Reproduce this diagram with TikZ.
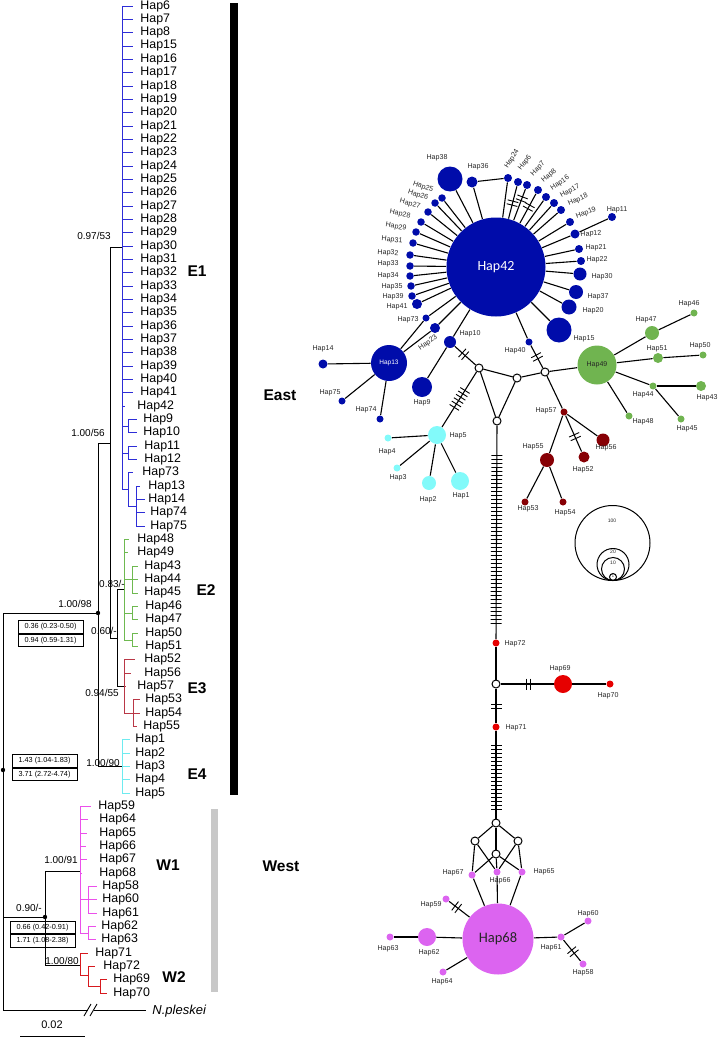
\documentclass[tikz,border=0pt]{standalone}
\usepackage{fontspec}
\setmainfont{Liberation Sans}
\newfontfamily\calfont{Carlito}
\usetikzlibrary{decorations.markings}

\definecolor{treeblue}{RGB}{45,45,215}
\definecolor{treegreen}{RGB}{110,185,80}
\definecolor{treered}{RGB}{185,55,70}
\definecolor{treecyan}{RGB}{110,235,240}
\definecolor{treemag}{RGB}{235,80,235}
\definecolor{treew2}{RGB}{215,25,30}
\definecolor{netblue}{RGB}{0,12,170}
\definecolor{netgreen}{RGB}{112,180,80}
\definecolor{netcyan}{RGB}{130,250,250}
\definecolor{netdred}{RGB}{135,0,5}
\definecolor{netred}{RGB}{230,0,0}
\definecolor{netmag}{RGB}{220,100,240}
\definecolor{westgray}{RGB}{200,200,200}

\tikzset{
  leaf/.style={anchor=west, inner sep=0pt, font=\fontsize{12.4}{12.4}\selectfont},
  bs/.style={inner sep=0pt, font=\fontsize{10}{10}\selectfont},
  agebox/.style={draw, line width=1pt, inner sep=0pt, minimum width=65, minimum height=12.5, font=\fontsize{7.3}{7.3}\selectfont},
  clade/.style={inner sep=0pt, font=\bfseries\fontsize{15.5}{15.5}\selectfont},
  lab/.style={inner sep=0pt, font=\fontsize{7.1}{7.1}\selectfont, text=black!85},
  hap/.style={circle, inner sep=0pt, minimum size=#1},
  bl/.style={hap=#1, fill=netblue}, bl/.default=7.5,
  gr/.style={hap=#1, fill=netgreen}, gr/.default=7,
  cy/.style={hap=#1, fill=netcyan}, cy/.default=7,
  dr/.style={hap=#1, fill=netdred}, dr/.default=7,
  rd/.style={hap=#1, fill=netred}, rd/.default=7,
  mg/.style={hap=#1, fill=netmag}, mg/.default=7,
  mv/.style={circle, draw, fill=white, line width=1pt, inner sep=0pt, minimum size=8},
  mut/.style 2 args={postaction={decorate, decoration={markings,
      mark=between positions #1 and #2 step 4pt with {\draw[line width=0.9pt] (0,-5.5) -- (0,5.5);}}}},
}

\begin{document}
\begin{tikzpicture}[x=1pt, y=-1pt, line width=0.9pt]
\useasboundingbox (0,0) rectangle (719,1038);

%%% tree %%%
% E1
\foreach \n [count=\i from 0] in {6,7,8,15,16,17,18,19,20,21,22,23,24,25,26,27,28,29,30,31,32,33,34,35,36,37,38,39,40,41} {
  \draw[treeblue] (122,{6+13.34*\i}) -- (133,{6+13.34*\i});
  \node[leaf] (l\n) at (140,{6+13.34*\i}) {Hap\n};
}
\foreach \n/\i/\a/\b/\t in {42/30/122/125/137, 9/31/128/137/143, 10/32/128/137/143, 11/33/128/137/144,
    12/34/128/137/144, 73/35/128/133/142, 13/36/136/140/148, 14/37/136/145/148, 74/38/136/145/150, 75/39/136/145/150} {
  \draw[treeblue] (\a,{6+13.34*\i}) -- (\b,{6+13.34*\i});
  \node[leaf] (l\n) at (\t,{6+13.34*\i}) {Hap\n};
}
\draw[treeblue] (122,6) -- (122,489) (122,426) -- (128,426) (128,419.5) -- (128,432.9)
  (122,453) -- (128,453) (128,446.2) -- (128,459.6) (122,489) -- (128,489) (128,472.9) -- (128,506)
  (128,506) -- (136,506) (136,486.2) -- (136,526.3);

% E2
\foreach \n/\i/\a/\b/\t in {48/40/124/129/137, 49/41/124/128/137, 43/42/132/138/144, 44/43/132/138/144, 45/44/132/138/144,
    46/45/132/138/145, 47/46/132/138/145, 50/47/132/138/145, 51/48/132/138/145} {
  \draw[treegreen] (\a,{6+13.34*\i}) -- (\b,{6+13.34*\i});
  \node[leaf] (l\n) at (\t,{6+13.34*\i}) {Hap\n};
}
\draw[treegreen] (124,539.6) -- (124,640) (124,579.6) -- (132,579.6) (132,566.3) -- (132,593)
  (124,613) -- (132,613) (132,606.3) -- (132,619.6) (124,640) -- (132,640) (132,633) -- (132,646.3);

% E3
\foreach \n/\i/\a/\b/\t in {52/49/124/135/144, 56/50/124/131/144, 57/51/124/126/137, 53/52/133/140/145,
    54/53/133/140/145, 55/54/133/137/143} {
  \draw[treered] (\a,{6+13.34*\i}) -- (\b,{6+13.34*\i});
  \node[leaf] (l\n) at (\t,{6+13.34*\i}) {Hap\n};
}
\draw[treered] (124,659.7) -- (124,713) (124,713) -- (133,713) (133,699.7) -- (133,726.4);

% E4
\foreach \n/\i in {1/55, 2/56, 3/57, 4/58, 5/59} {
  \draw[treecyan] (122,{6+13.34*\i}) -- (130,{6+13.34*\i});
  \node[leaf] (l\n) at (135,{6+13.34*\i}) {Hap\n};
}
\draw[treecyan] (122,739.7) -- (122,793);

% W1
\foreach \n/\i/\a/\b/\t in {59/60/80/91/98, 64/61/80/88/99, 65/62/80/87/99, 66/63/80/86/99, 67/64/80/87/99,
    68/65/80/82/99, 58/66/88/97/102, 60/67/88/97/102, 61/68/88/97/102, 62/69/88/96/101, 63/70/88/96/101} {
  \draw[treemag] (\a,{6+13.34*\i}) -- (\b,{6+13.34*\i});
  \node[leaf] (l\n) at (\t,{6+13.34*\i}) {Hap\n};
}
\draw[treemag] (80,806.4) -- (80,933) (80,899.7) -- (88,899.7) (88,886.4) -- (88,913)
  (80,933) -- (88,933) (88,926.4) -- (88,939.8);

% W2
\foreach \n/\i/\a/\b/\t in {71/71/80/88/95, 72/72/88/95/103, 69/73/100/107/113, 70/74/100/107/113} {
  \draw[treew2] (\a,{6+13.34*\i}) -- (\b,{6+13.34*\i});
  \node[leaf] (l\n) at (\t,{6+13.34*\i}) {Hap\n};
}
\draw[treew2] (80,953) -- (80,975) (80,975) -- (88,975) (88,966.5) -- (88,986.5)
  (88,986.5) -- (100,986.5) (100,979.8) -- (100,993);

% backbone
\draw (110,247) -- (122,247) (110,247) -- (110,638) (98,443) -- (110,443)
  (110,638) -- (117,638) (117,589) -- (117,686) (117,589) -- (124,589) (117,686) -- (124,686)
  (98,443) -- (98,766) (98,766) -- (122,766) (3,613) -- (98,613) (3,613) -- (3,1010)
  (3,917) -- (45,917) (45,871) -- (45,965) (45,871) -- (80,871) (45,965) -- (80,965);
\draw (3,1010) -- (88,1010) (94,1010) -- (146,1010);
\draw (84,1016) -- (91,1004) (90,1016) -- (97,1004);
\node[leaf, font=\itshape\fontsize{13}{13}\selectfont] (out) at (152,1011) {N.pleskei};
\fill (98,613) circle (2.2) (3,770) circle (2.2) (45,917) circle (2.2);

% support values
\node[bs] (s1) at (94,236) {0.97/53};
\node[bs] (s2) at (88,433) {1.00/56};
\node[bs] (s3) at (112,584) {0.83/-};
\node[bs] (s4) at (104,631) {0.60/-};
\node[bs] (s5) at (102,693) {0.94/55};
\node[bs] (s6) at (103,763) {1.00/90};
\node[bs] (s7) at (75,604) {1.00/98};
\node[bs] (s8) at (61,860) {1.00/91};
\node[bs] (s9) at (29,908) {0.90/-};
\node[bs] (s10) at (62,961) {1.00/80};

% ages
\node[agebox] (a1) at (50.5,627) {0.36 (0.23-0.50)};
\node[agebox] (a2) at (50.5,640.5) {0.94 (0.59-1.31)};
\node[agebox] (a3) at (44.5,761) {1.43 (1.04-1.83)};
\node[agebox] (a4) at (44.5,774.5) {3.71 (2.72-4.74)};
\node[agebox] (a5) at (42.5,927.5) {0.66 (0.42-0.91)};
\node[agebox] (a6) at (42.5,941) {1.71 (1.08-2.38)};

% scale
\draw (20,1036) -- (85,1036);
\node[bs, font=\fontsize{11}{11}\selectfont] (sc) at (52,1025) {0.02};

% clades
\node[clade] (e1) at (197,271) {E1};
\node[clade] (e2) at (206,590) {E2};
\node[clade] (e3) at (197,688) {E3};
\node[clade] (e4) at (197,774) {E4};
\node[clade] (w1) at (168,865) {W1};
\node[clade] (w2) at (174,977) {W2};
\fill (230,3) rectangle (238,795);
\fill[westgray] (211,809) rectangle (218,992);
\node[clade] (east) at (280,395) {East};
\node[clade] (west) at (281,866) {West};

%%% network %%%
\node[bl=99, text=white, font=\calfont\fontsize{14}{14}\selectfont] (h42) at (496,267) {Hap42};
\node[bl=36, text=white, font=\fontsize{6.5}{6.5}\selectfont] (h13) at (389,363) {Hap13};
\node[gr=39, text=black!85, font=\fontsize{7}{7}\selectfont] (h49) at (597,365) {Hap49};
\node[mg=71, text=black!85, font=\calfont\fontsize{14.5}{14.5}\selectfont] (h68) at (498,939) {Hap68};
\foreach \n/\x/\y/\s in {38/450/179/25, 36/472/182/11, 24/508/178/8, 6/518/182/8, 7/527/185/8, 8/538/190/8,
    16/546/197/8, 17/554/203/8, 18/561/210/8, 19/570/222/8, 11/612/217/8, 12/575/234/9, 21/579/249/8,
    22/581/261/8, 30/580/274/13, 37/576/292/14, 20/569/307/15, 15/559/330/25, 40/529/342/7, 10/450/342/12,
    23/435/328/10, 73/426/318/7, 41/417/304/10, 39/412/296/7.5, 35/411/286/7.5, 34/410/276/7.5,
    33/410/266/7.5, 32/410/255/7.5, 31/413/243/7.5, 29/416/232/7.5, 28/421/222/7.5, 27/428/212/7.5,
    26/435/203/7.5, 25/442/198/7.5, 14/323/364/9, 75/342/401/7, 74/380/419/7, 9/422/387/20}
  \node[bl=\s] (h\n) at (\x,\y) {};
\foreach \n/\x/\y/\s in {47/652/333/14, 46/694/313/7, 51/658/358/10, 50/703/355/7, 44/653/386/7,
    43/701/386/10, 48/629/416/7, 45/681/419/7}
  \node[gr=\s] (h\n) at (\x,\y) {};
\foreach \n/\x/\y/\s in {5/437/435/18, 4/388/438/7, 3/397/468/7, 2/429/483/14, 1/460/481/18}
  \node[cy=\s] (h\n) at (\x,\y) {};
\foreach \n/\x/\y/\s in {57/564/412/7, 56/603/440/13, 52/584/457/11, 55/547/460/14, 53/525/502/7, 54/563/502/7}
  \node[dr=\s] (h\n) at (\x,\y) {};
\foreach \n/\x/\y/\s in {72/496/643/7, 71/496/727/7, 69/563/684/18, 70/610/684/7}
  \node[rd=\s] (h\n) at (\x,\y) {};
\foreach \n/\x/\y/\s in {67/472/875/7, 66/497/872/7, 65/522/872/7, 59/446/899/7, 62/427/937/18,
    63/390/937/7, 64/443/972/7, 61/561/937/7, 60/588/921/7, 58/583/964/7}
  \node[mg=\s] (h\n) at (\x,\y) {};
\foreach \n/\x/\y in {1/479/368, 2/517/378, 3/545/372, 4/497/421, 5/496/684, 6/496/823, 7/475/841, 8/518/841, 9/496/854}
  \node[mv] (v\n) at (\x,\y) {};

% labels
\foreach \n/\x/\y/\r in {38/437/158/0, 36/478/167/0, 24/512/159/58, 6/525/163/52, 7/538/169/46, 8/549/176/40,
    16/560/183/34, 17/570/191/29, 18/578/200/24, 19/586/213/20, 11/617/210/0, 12/591/234/5, 21/596/248/0,
    22/597/260/0, 30/602/277/0, 37/598/297/0, 20/593/311/0, 15/584/339/0, 40/515/351/0, 10/470/334/0,
    23/428/343/35, 73/408/320/0, 41/397/307/0, 39/393/297/0, 35/392/287/0, 34/388/276/0, 33/388/264/0,
    32/388/253/-3, 31/392/240/-6, 29/396/227/-10, 28/400/214/-12, 27/410/204/-15, 26/418/195/-18,
    25/423/187/-20, 14/323/349/0, 75/330/393/0, 74/366/410/0, 9/422/403/0,
    47/646/320/0, 46/689/304/0, 51/657/349/0, 50/700/346/0, 44/643/395/0, 43/707/398/0, 48/643/422/0, 45/687/429/0,
    5/458/436/0, 4/387/452/0, 3/398/478/0, 2/428/500/0, 1/461/496/0,
    57/546/411/0, 56/606/448/0, 52/583/470/0, 55/533/447/0, 53/528/509/0, 54/565/513/0,
    72/515/644/0, 71/516/728/0, 69/560/669/0, 70/608/696/0,
    67/453/873/0, 66/500/881/0, 65/544/872/0, 59/431/905/0, 62/429/953/0, 63/388/949/0, 64/442/982/0,
    61/551/948/0, 60/588/914/0, 58/583/973/0}
  \node[lab, rotate=\r] (t\n) at (\x,\y) {Hap\n};

% edges
\begin{scope}[line width=1.1pt]
\foreach \a/\b in {h42/h38, h42/h36, h36/h24, h42/h24, h42/h16, h42/h17, h42/h18, h42/h19, h42/h12, h12/h11,
    h42/h21, h42/h22, h42/h30, h42/h37, h42/h20, h42/h15, h42/h40, h42/h10, h42/h23, h42/h73, h42/h41,
    h42/h39, h42/h35, h42/h34, h42/h33, h42/h32, h42/h31, h42/h29, h42/h28, h42/h27, h42/h26, h42/h25,
    h13/h73, h13/h23, h13/h14, h13/h75, h13/h74, h10/h9,
    v1/v2, v2/v3, v1/v4, v2/v4, v3/h49, v3/h57,
    h49/h47, h47/h46, h49/h51, h51/h50, h49/h44, h44/h43, h44/h45, h49/h48,
    h5/h4, h5/h3, h5/h2, h5/h1, h57/h56, h57/h55, h55/h53, h55/h54,
    h72/v5, h69/h70, v6/v7, v6/v8, v6/v9, v7/h67, v7/h66, v8/h66, v8/h65, v9/h67, v9/h65, v9/h66,
    h67/h68, h66/h68, h65/h68, h68/h62, h62/h63, h68/h64, h68/h61, h61/h60}
  \draw (\a) -- (\b);
\draw[mut={14pt}{18.5pt}] (h42) -- (h6);
\draw[mut={21pt}{25.5pt}] (h42) -- (h7);
\draw[mut={16.5pt}{21pt}] (h42) -- (h8);
\draw[mut={10pt}{14.5pt}] (h10) -- (v1);
\draw[mut={11pt}{15.5pt}] (h40) -- (v3);
\draw[mut={22pt}{45pt}] (v1) -- (h5);
\draw[mut={21pt}{25.5pt}] (h57) -- (h52);
\draw[mut={30pt}{198.5pt}] (v4) -- (h72);
\draw[mut={16pt}{20.5pt}] (v5) -- (h71);
\draw[mut={14.5pt}{80pt}] (h71) -- (v6);
\draw[mut={26pt}{30.5pt}] (v5) -- (h69);
\draw[mut={7.5pt}{12pt}] (h59) -- (h68);
\draw[mut={13pt}{17.5pt}] (h61) -- (h58);
\end{scope}

% size legend
\node[hap=75, draw, line width=1pt] (c100) at (612.5,543) {};
\node[hap=32, draw, line width=1pt] (c20) at (613,564.5) {};
\node[hap=23, draw, line width=1pt] (c10) at (613,569) {};
\node[hap=7, draw, line width=1pt] (c1) at (613,577) {};
\node[lab, font=\fontsize{5}{5}\selectfont] (n100) at (612,521) {100};
\node[lab, font=\fontsize{5}{5}\selectfont] (n20) at (613,552) {20};
\node[lab, font=\fontsize{5}{5}\selectfont] (n10) at (613,563) {10};
\node[lab, font=\fontsize{4}{4}\selectfont] (n1) at (613,576.5) {1};
\end{tikzpicture}
\end{document}
